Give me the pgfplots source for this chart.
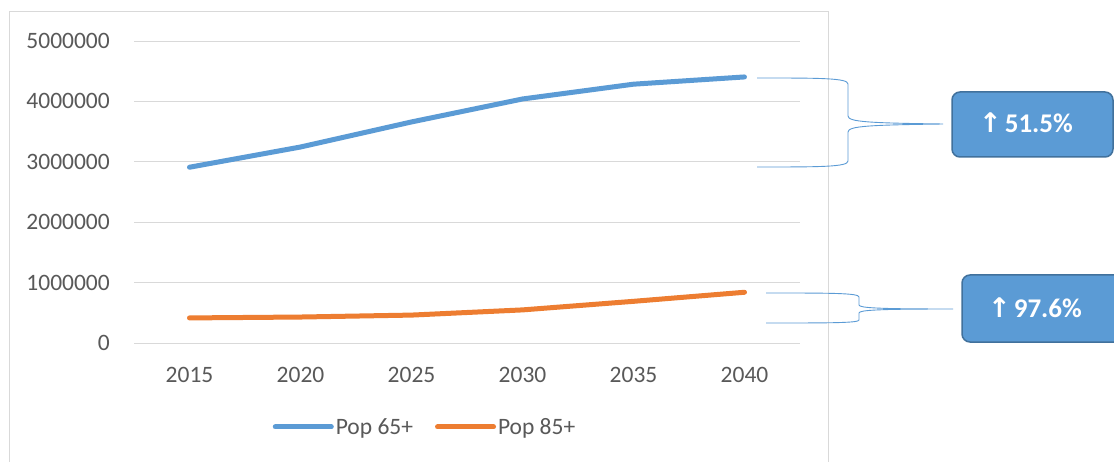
\documentclass[border=0pt]{standalone}
\usepackage{fontspec}
\setmainfont{Carlito}
\newfontfamily\symfont{DejaVu Sans}
\usepackage{pgfplots}
\pgfplotsset{compat=1.18}
\definecolor{s1}{HTML}{5B9BD5}
\definecolor{s2}{HTML}{ED7D31}
\definecolor{gridc}{HTML}{D9D9D9}
\definecolor{txt}{HTML}{595959}
\definecolor{boxb}{HTML}{41719C}
\begin{document}
\begin{tikzpicture}[x=1pt,y=1pt]
\clip (0,0) rectangle (1114,461);
\fill[white] (0,0) rectangle (1114,461);
% chart area border
\draw[gridc, line width=1pt] (9,-10) -- (9,449) -- (828,449) -- (828,-10);
\begin{axis}[
  at={(134pt,118pt)}, anchor=south west,
  scale only axis, width=666pt, height=302pt,
  xmin=-0.5, xmax=5.5, ymin=0, ymax=5000000,
  xtick={0,1,2,3,4,5},
  xticklabels={2015,2020,2025,2030,2035,2040},
  ytick={0,1000000,2000000,3000000,4000000,5000000},
  yticklabels={0,1000000,2000000,3000000,4000000,5000000},
  scaled y ticks=false,
  axis line style={draw=none},
  major tick style={draw=none},
  ymajorgrids, grid style={gridc, line width=1pt},
  tick label style={font=\fontsize{23.5}{28}\selectfont, text=txt, inner sep=0pt},
  yticklabel style={anchor=east, xshift=-24pt},
  xticklabel style={anchor=north, yshift=-24pt},
  legend columns=2,
  legend style={at={(0.437,-0.278)}, anchor=center, draw=none, fill=none,
    font=\fontsize{23.5}{28}\selectfont, text=txt,
    /tikz/every even column/.append style={column sep=20pt},
    nodes={inner sep=2pt}},
  legend image code/.code={\draw[#1] (0pt,0pt) -- (56pt,0pt);},
  clip=false,
]
\addplot[s1, line width=5pt, line cap=round, line join=round] coordinates {
(0,2910000) (1,3245000) (2,3660000) (3,4040000) (4,4285000) (5,4405000)};
\addlegendentry{Pop 65+}
\addplot[s2, line width=5pt, line cap=round, line join=round] coordinates {
(0,415000) (1,430000) (2,462000) (3,548000) (4,690000) (5,840000)};
\addlegendentry{Pop 85+}
\end{axis}
% braces
\draw[s1, line width=0.9pt] (757,383) .. controls (820,383) and (848,383) .. (848,377)
  -- (848,345) .. controls (848,339) and (870,338) .. (943,337)
  .. controls (870,336) and (848,335) .. (848,329)
  -- (848,300) .. controls (848,294) and (820,294) .. (757,294);
\draw[s1, line width=0.9pt] (766,168) .. controls (830,168) and (859,168) .. (859,164)
  -- (859,156) .. controls (859,153) and (880,152) .. (953,152)
  .. controls (880,152) and (859,151) .. (859,148)
  -- (859,141) .. controls (859,138) and (830,138) .. (766,138);
% boxes
\draw[boxb, fill=s1, line width=1.5pt, rounded corners=8pt] (952,304) rectangle (1113,369);
\node[text=white, font=\fontsize{27}{30}\selectfont\bfseries, anchor=center] at (1026,338)
  {{\symfont\fontsize{27}{30}\selectfont ↑}\hspace{3pt}51.5\%};
\draw[boxb, fill=s1, line width=1.5pt, rounded corners=8pt] (962,119) rectangle (1125,186);
\node[text=white, font=\fontsize{27}{30}\selectfont\bfseries, anchor=center] at (1035,153)
  {{\symfont\fontsize{27}{30}\selectfont ↑}\hspace{3pt}97.6\%};
\end{tikzpicture}
\end{document}
